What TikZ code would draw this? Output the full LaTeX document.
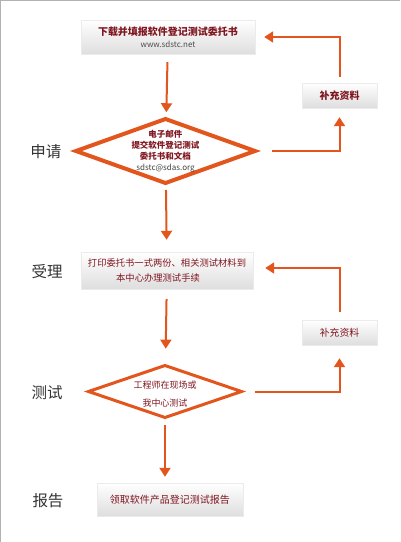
\documentclass[tikz,border=0pt]{standalone}
\usepackage{fontspec}
\setmainfont{Noto Sans CJK SC}
\usepackage{tikz}
\usetikzlibrary{arrows.meta, shapes.geometric, shadows, positioning}
\definecolor{flowred}{RGB}{226,86,30}
\definecolor{textred}{RGB}{128,22,32}
\tikzset{>={Triangle[width=11pt,length=9pt]}}
\tikzset{
  stepbox/.style={rectangle, top color=white, bottom color=black!13, draw=black!8, line width=.4pt,
    drop shadow={opacity=.18, shadow xshift=.6pt, shadow yshift=-1pt}, text=textred, align=center, inner sep=0pt},
  decide/.style={diamond, draw=flowred, inner sep=0pt, outer sep=0pt, miter limit=10},
  flow/.style={->, draw=flowred, line width=2pt},
  phase/.style={text=black!80, font=\fontsize{15.5}{15.5}\selectfont}
}

\begin{document}
\begin{tikzpicture}[x=1pt,y=-1pt]
        \useasboundingbox (0,0) rectangle (400,542);
        \draw [black!30, line width=1pt] (0.5,542) -- (0.5,0.5) -- (400,0.5);
        \node (box1) at (168,37)[stepbox, minimum width=174pt, minimum height=34pt]{\fontsize{10}{14.5}\selectfont\bfseries 下载并填报软件登记测试委托书\\ \fontsize{8}{9}\selectfont\color{black!70} www.sdstc.net};
        \node (d1) at (165.5,151)[decide, line width=4pt, minimum width=179pt, minimum height=64pt]{};
        \node (d1txt) at (d1)[align=center, text=textred, font=\fontsize{8.5}{11}\selectfont\bfseries]{电子邮件\\提交软件登记测试\\委托书和文档\\ \mdseries\fontsize{8}{11}\selectfont\color{black!75}sdstc@sdas.org};
        \node (s1) at (339.5,95.5)[stepbox, minimum width=75pt, minimum height=25pt, font=\fontsize{10}{10}\selectfont\bfseries]{补充资料};
        \node (box2) at (167,270.5)[stepbox, minimum width=172pt, minimum height=37pt, font=\fontsize{9.3}{15}\selectfont]{打印委托书一式两份、相关测试材料到\\本中心办理测试手续\hspace*{18pt}};
        \node (d2) at (165,391.5)[decide, line width=3pt, minimum width=153pt, minimum height=52pt]{};
        \node (d2txt) at (165,394)[align=center, text=textred, font=\fontsize{9}{18}\selectfont]{工程师在现场或\\我中心测试};
        \node (s2) at (339.5,332.5)[stepbox, minimum width=75pt, minimum height=25pt, font=\fontsize{9.8}{9.8}\selectfont]{补充资料};
        \node (box3) at (170,499.5)[stepbox, minimum width=146pt, minimum height=33pt, font=\fontsize{10}{10}\selectfont]{领取软件产品登记测试报告};
        \node (p1) at (46,152)[phase]{申请};
        \node (p2) at (47,272)[phase]{受理};
        \node (p3) at (47,393)[phase]{测试};
        \node (p4) at (48,501)[phase]{报告};
        \draw [flow, shorten <=8pt, shorten >=7pt] (box1) -- (d1);
        \draw [flow, shorten <=7pt, shorten >=12pt] (d1) -- (box2);
        \draw [flow, shorten <=10pt, shorten >=17pt] (box2) -- (d2);
        \draw [flow, shorten <=7pt, shorten >=6pt] (d2) -- (box3.north -| d2);
        \draw [flow, shorten <=17pt, shorten >=9pt] (d1.east) -| (s1.south);
        \draw [flow, shorten <=6pt, shorten >=9pt] (s1.north) |- (box1.east);
        \draw [flow, shorten <=13pt, shorten >=13pt] (d2.east) -| (s2.south);
        \draw [flow, shorten <=8pt, shorten >=12pt] (s2.north) |- ([yshift=2.5pt]box2.east);
\end{tikzpicture}
\end{document}
